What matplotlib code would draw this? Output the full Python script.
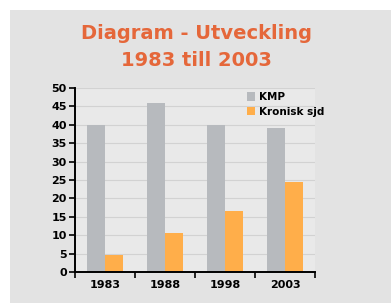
import numpy as np
import matplotlib
matplotlib.use("Agg")
import matplotlib.pyplot as plt
from matplotlib.patches import Rectangle

# data
years = ["1983", "1988", "1998", "2003"]
kmp = [40, 46, 40, 39]
kronisk = [4.5, 10.5, 16.5, 24.5]
series_names = ["KMP", "Kronisk sjd"]

gray = "#b7babe"
orange = "#ffae4a"

fig = plt.figure(figsize=(3.91, 3.03), dpi=100)
fig.patch.set_facecolor("white")

# gray panel behind the chart
fig.patches.append(Rectangle((10 / 391, 0), 1, 1 - 10 / 303, transform=fig.transFigure,
                             facecolor="#e3e3e3", edgecolor="none", zorder=-1))

ax = fig.add_axes([75 / 391, 31 / 303, 240 / 391, 184 / 303])
ax.set_facecolor("#e9e9e9")

x = np.arange(len(years))
w = 0.3
ax.bar(x - w / 2, kmp, w, color=gray, label=series_names[0], zorder=2)
ax.bar(x + w / 2, kronisk, w, color=orange, label=series_names[1], zorder=2)

ax.set_ylim(0, 50)
ax.set_xlim(-0.5, 3.5)
ax.set_yticks(np.arange(0, 51, 5))
ax.yaxis.grid(True, color="#d2d2d2", linewidth=0.8, zorder=1)

ax.set_xticks(x)
ax.set_xticklabels(years)
ax.set_xticks(np.arange(-0.5, 4, 1), minor=True)
ax.tick_params(axis="x", which="major", length=0, labelsize=8, pad=6)
ax.tick_params(axis="x", which="minor", length=4, width=1.2, direction="out")
ax.tick_params(axis="y", length=4, width=1.2, labelsize=8, pad=2)
for lbl in ax.get_xticklabels() + ax.get_yticklabels():
    lbl.set_fontweight("bold")

for s in ["top", "right"]:
    ax.spines[s].set_visible(False)
for s in ["left", "bottom"]:
    ax.spines[s].set_linewidth(1.4)

leg = ax.legend(loc="upper right", bbox_to_anchor=(1.08, 1.03), frameon=False,
                prop={"size": 7.5, "weight": "bold"}, handlelength=0.8,
                handleheight=0.9, handletextpad=0.4, labelspacing=0.45)

fig.text(0.503, 0.888, "Diagram - Utveckling", ha="center", va="center",
         fontsize=14, fontweight="bold", color="#e5673a")
fig.text(0.503, 0.8, "1983 till 2003", ha="center", va="center",
         fontsize=14, fontweight="bold", color="#e5673a")

fig.savefig("out.png", dpi=100)
